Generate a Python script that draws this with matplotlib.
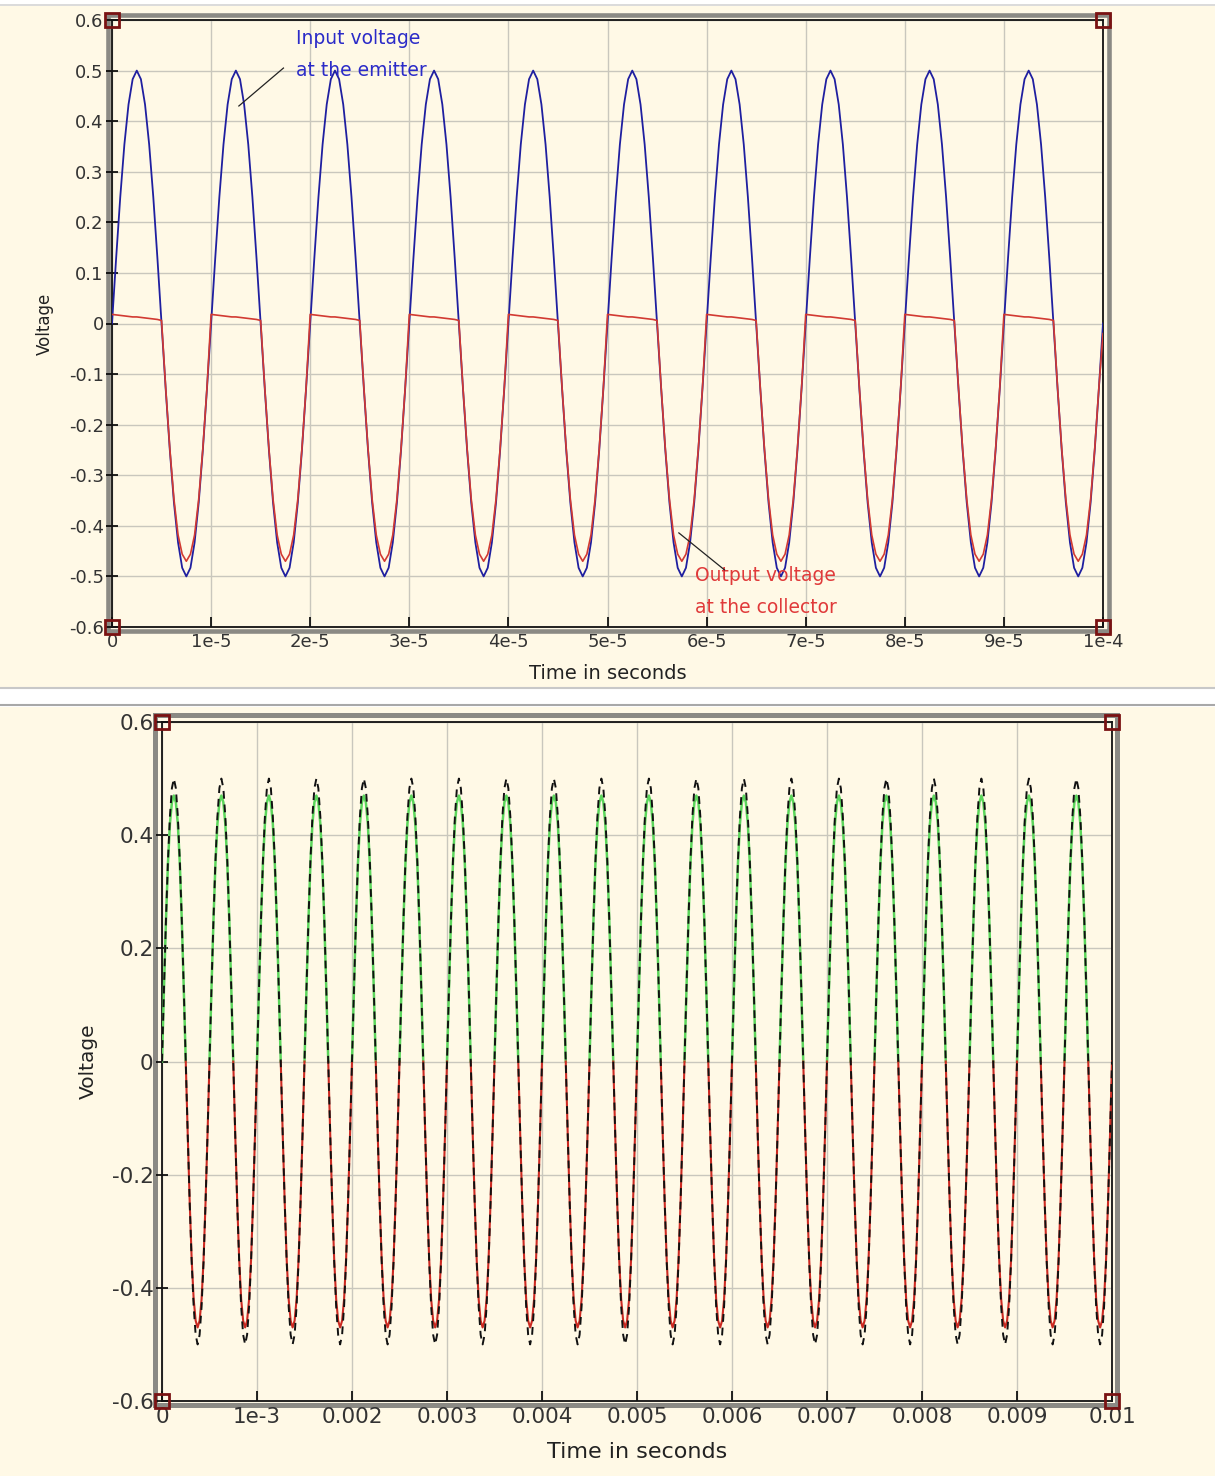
import numpy as np
import matplotlib
matplotlib.use('Agg')
import matplotlib.pyplot as plt
from matplotlib.patches import Rectangle
from matplotlib.lines import Line2D

plt.rc('font', family='DejaVu Sans')

W, H = 1215, 1476
nan = np.nan

# --- top panel: emitter input vs collector output (one cycle, 15 deg steps) ---
top_period = 1e-5
top_cycles = 10
input_cycle = [0.0, 0.129, 0.25, 0.354, 0.433, 0.483, 0.5, 0.483, 0.433, 0.354, 0.25, 0.129,
               0.0, -0.129, -0.25, -0.354, -0.433, -0.483, -0.5, -0.483, -0.433, -0.354, -0.25, -0.129]
output_cycle = [0.018, 0.017, 0.016, 0.015, 0.014, 0.013, 0.013, 0.012, 0.011, 0.010, 0.009, 0.008,
                0.006, -0.127, -0.247, -0.347, -0.418, -0.456, -0.47, -0.456, -0.418, -0.347, -0.247, -0.127]
input_end = 0.0
output_end = -0.02
top_yticks = [0.6, 0.5, 0.4, 0.3, 0.2, 0.1, 0, -0.1, -0.2, -0.3, -0.4, -0.5, -0.6]
top_ylabels = ['0.6', '0.5', '0.4', '0.3', '0.2', '0.1', '0', '-0.1', '-0.2', '-0.3', '-0.4', '-0.5', '-0.6']
top_xticks = [0, 1e-5, 2e-5, 3e-5, 4e-5, 5e-5, 6e-5, 7e-5, 8e-5, 9e-5, 1e-4]
top_xlabels = ['0', '1e-5', '2e-5', '3e-5', '4e-5', '5e-5', '6e-5', '7e-5', '8e-5', '9e-5', '1e-4']

# --- bottom panel: input (dashed) and two half-wave outputs ---
bot_period = 5e-4
bot_cycles = 20
black_cycle = input_cycle
green_cycle = [0.0, 0.129, 0.249, 0.35, 0.42, 0.458, 0.47, 0.458, 0.42, 0.35, 0.249, 0.129,
               0.0, nan, nan, nan, nan, nan, nan, nan, nan, nan, nan, nan]
red_cycle = [0.0, nan, nan, nan, nan, nan, nan, nan, nan, nan, nan, nan,
             0.0, -0.129, -0.249, -0.35, -0.42, -0.458, -0.47, -0.458, -0.42, -0.35, -0.249, -0.129]
bot_yticks = [0.6, 0.4, 0.2, 0, -0.2, -0.4, -0.6]
bot_ylabels = ['0.6', '0.4', '0.2', '0', '-0.2', '-0.4', '-0.6']
bot_xticks = [0, 0.001, 0.002, 0.003, 0.004, 0.005, 0.006, 0.007, 0.008, 0.009, 0.01]
bot_xlabels = ['0', '1e-3', '0.002', '0.003', '0.004', '0.005', '0.006', '0.007', '0.008', '0.009', '0.01']

cream = '#fff9e6'
gridc = '#c9c7bd'
framec = '#8b8a84'
cornerc = '#7a1212'


def build(cycle, n, period, end):
    k = len(cycle)
    t = np.arange(n * k + 1) * period / k
    v = np.append(np.tile(np.array(cycle, dtype=float), n), end)
    return t, v


def fig_rect(x0, y0, x1, y1, **kw):
    # pixel box (top-left origin) -> figure rectangle
    r = Rectangle((x0 / W, 1 - y1 / H), (x1 - x0) / W, (y1 - y0) / H,
                  transform=fig.transFigure, **kw)
    fig.add_artist(r)


def fig_hline(y, x0, x1, **kw):
    fig.add_artist(Line2D([x0 / W, x1 / W], [1 - y / H, 1 - y / H], transform=fig.transFigure, **kw))


def make_axes(l, t, r, b):
    return fig.add_axes([l / W, 1 - b / H, (r - l) / W, (b - t) / H])


def style(ax, xt, xl, yt, yl, fs):
    ax.set_facecolor(cream)
    ax.set_xticks(xt)
    ax.set_xticklabels(xl)
    ax.set_yticks(yt)
    ax.set_yticklabels(yl)
    ax.set_xlim(xt[0], xt[-1])
    ax.set_ylim(-0.6, 0.6)
    ax.grid(True, color=gridc, linewidth=1.0, zorder=0)
    ax.set_axisbelow(True)
    for s in ax.spines.values():
        s.set_linewidth(1.3)
        s.set_color('#111111')
    ax.tick_params(axis='y', direction='inout', length=8, width=1.2, labelsize=fs,
                   labelcolor='#333333', pad=2)
    ax.tick_params(axis='x', direction='in', length=7, width=1.2, labelsize=fs,
                   labelcolor='#333333', pad=4)
    ax.plot([0, 1, 0, 1], [0, 0, 1, 1], 's', transform=ax.transAxes, clip_on=False,
            mfc='none', mec=cornerc, ms=10, mew=2.0, zorder=6)


fig = plt.figure(figsize=(W / 100, H / 100), dpi=100, facecolor='white')

# panel backgrounds and separators
fig_rect(0, 6, W, 687, facecolor=cream, edgecolor='none', zorder=-5)
fig_rect(0, 707, W, H, facecolor=cream, edgecolor='none', zorder=-5)
fig_hline(5, 0, W, color='#d4d4d4', linewidth=1.2, zorder=-4)
fig_hline(688, 0, W, color='#c8c8c8', linewidth=1.5, zorder=-4)
fig_hline(705, 0, W, color='#a8a8a8', linewidth=1.5, zorder=-4)

# gray outer frames (behind the axes so the corner marks stay on top)
fig_rect(107.5, 15, 1109, 631, facecolor='none', edgecolor=framec, linewidth=3.3, zorder=-1)
fig_rect(155, 715, 1116.5, 1405, facecolor='none', edgecolor=framec, linewidth=3.6, zorder=-1)

# ---------------- top panel ----------------
ax1 = make_axes(112, 20, 1103, 627)
style(ax1, top_xticks, top_xlabels, top_yticks, top_ylabels, 13)

t_in, v_in = build(input_cycle, top_cycles, top_period, input_end)
t_out, v_out = build(output_cycle, top_cycles, top_period, output_end)
ax1.plot(t_in, v_in, color='#1f1fa0', linewidth=1.3, zorder=3)
ax1.plot(t_out, v_out, color='#d23a32', linewidth=1.2, zorder=4)

ax1.set_xlabel('Time in seconds', fontsize=14, color='#222222')
ax1.xaxis.set_label_coords(0.5, -0.0758)
ax1.xaxis.label.set_va('center')
ax1.set_ylabel('Voltage', fontsize=12, color='#222222')
ax1.yaxis.set_label_coords(-0.0676, 0.5)
ax1.yaxis.label.set_va('center')

ax1.plot([1.73e-5, 1.28e-5], [0.505, 0.43], color='#222222', linewidth=0.9, zorder=5)
ax1.text(1.857e-5, 0.564, 'Input voltage', color='#2b2bc8', fontsize=13.5, va='center', ha='left')
ax1.text(1.857e-5, 0.501, 'at the emitter', color='#2b2bc8', fontsize=13.5, va='center', ha='left')

ax1.plot([6.18e-5, 5.72e-5], [-0.487, -0.414], color='#222222', linewidth=0.9, zorder=5)
ax1.text(5.88e-5, -0.499, 'Output voltage', color='#e03a3a', fontsize=13.5, va='center', ha='left')
ax1.text(5.88e-5, -0.5605, 'at the collector', color='#e03a3a', fontsize=13.5, va='center', ha='left')

# ---------------- bottom panel ----------------
ax2 = make_axes(162, 722, 1112, 1401)
style(ax2, bot_xticks, bot_xlabels, bot_yticks, bot_ylabels, 15.5)

t_b, v_b = build(black_cycle, bot_cycles, bot_period, 0.0)
t_g, v_g = build(green_cycle, bot_cycles, bot_period, 0.0)
t_r, v_r = build(red_cycle, bot_cycles, bot_period, 0.0)
ax2.plot(t_g, v_g, color='#5cd65c', linewidth=1.8, zorder=3)
ax2.plot(t_r, v_r, color='#cc2a22', linewidth=1.5, zorder=3)
ax2.plot(t_b, v_b, color='#111111', linewidth=1.4, linestyle=(0, (4, 3)), zorder=4)

ax2.set_xlabel('Time in seconds', fontsize=16, color='#222222')
ax2.xaxis.set_label_coords(0.5, -0.0751)
ax2.xaxis.label.set_va('center')
ax2.set_ylabel('Voltage', fontsize=14.5, color='#222222')
ax2.yaxis.set_label_coords(-0.0779, 0.5)
ax2.yaxis.label.set_va('center')

plt.savefig('out.png', dpi=100, facecolor='white')
